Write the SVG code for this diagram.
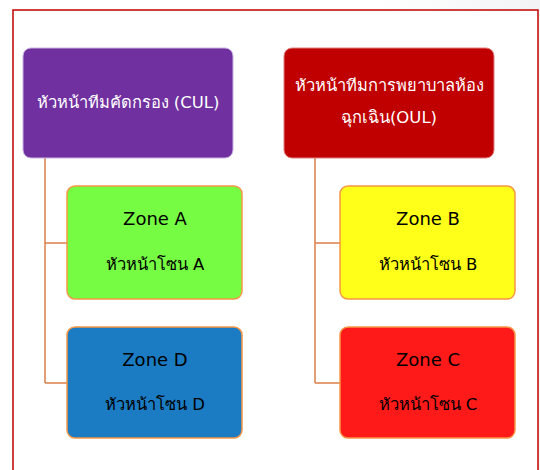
<svg xmlns="http://www.w3.org/2000/svg" width="540" height="470" viewBox="0 0 540 470">
<defs>
<linearGradient id="bg" x1="0" y1="0" x2="1" y2="0">
<stop offset="0" stop-color="#ffffff"/>
<stop offset="0.7" stop-color="#ffffff"/>
<stop offset="1" stop-color="#f2f4f5"/>
</linearGradient>
</defs>
<style>
text{font-family:"DejaVu Sans","Noto Sans",sans-serif;font-size:16.5px;text-anchor:middle;dominant-baseline:central}
.z{font-size:18px}
.head{stroke-width:1}
.zone{stroke:#f79646;stroke-width:1.5}
.conn{stroke:#d9804a;stroke-width:1.5;fill:none}
.w{fill:#ffffff}
.k{fill:#000000}
</style>
<rect x="0" y="0" width="540" height="470" fill="url(#bg)"/>
<rect x="13" y="10" width="525" height="470" fill="#ffffff" stroke="#c00000" stroke-width="1.5"/>
<g id="connectors">
<path class="conn" d="M45 158V383M45 243H67M45 383H67"/>
<path class="conn" d="M315 158V383M315 243H340M315 383H340"/>
</g>
<g id="cul">
<rect class="head" x="23" y="48" width="210" height="110" rx="8" fill="#7030a0" stroke="#c9b3e0"/>
<text class="w" x="128" y="102">หัวหน้าทีมคัดกรอง (CUL)</text>
</g>
<g id="oul">
<rect class="head" x="284" y="48" width="210" height="110" rx="8" fill="#c00000" stroke="#e08080"/>
<text class="w" x="389" y="85">หัวหน้าทีมการพยาบาลห้อง</text>
<text class="w" x="389" y="117">ฉุกเฉิน(OUL)</text>
</g>
<g id="zoneA">
<rect class="zone" x="67" y="186" width="175" height="113" rx="8" fill="#77fc44"/>
<text class="k z" x="155" y="218">Zone A</text>
<text class="k" x="155" y="264">หัวหน้าโซน A</text>
</g>
<g id="zoneD">
<rect class="zone" x="67" y="327" width="175" height="111" rx="8" fill="#1b7cc4"/>
<text class="k z" x="155" y="359">Zone D</text>
<text class="k" x="155" y="404">หัวหน้าโซน D</text>
</g>
<g id="zoneB">
<rect class="zone" x="340" y="186" width="175" height="113" rx="8" fill="#ffff1a"/>
<text class="k z" x="428" y="218">Zone B</text>
<text class="k" x="428" y="264">หัวหน้าโซน B</text>
</g>
<g id="zoneC">
<rect class="zone" x="340" y="327" width="175" height="111" rx="8" fill="#ff1a1a"/>
<text class="k z" x="428" y="359">Zone C</text>
<text class="k" x="428" y="404">หัวหน้าโซน C</text>
</g>
</svg>
